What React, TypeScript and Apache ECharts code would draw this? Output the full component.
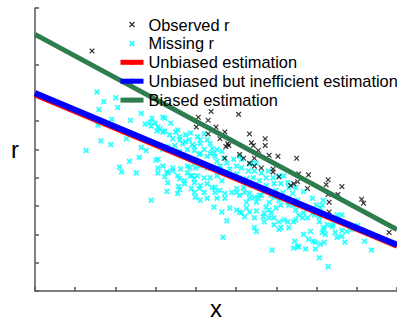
import React, { useEffect, useRef } from "react";
import * as echarts from "echarts";

// Axis scale (arbitrary units, no tick labels in the reference)
const xMin = 0;
const xMax = 368;
const xInterval = 368 / 9;
const yMin = 0;
const yMax = 290;
const yInterval = 29;

const legendNames = [
  "Observed r",
  "Missing r",
  "Unbiased estimation",
  "Unbiased but inefficient estimation",
  "Biased estimation",
];

const observedR: number[][] = [
  [58, 246], [179, 184], [207, 181], [166, 178], [176, 175], [164, 168], [184, 168],
  [193, 163], [176, 161], [218, 161], [188, 156], [196, 151], [194, 148], [197, 149],
  [234, 156], [220, 152], [222, 149], [234, 149], [227, 144], [223, 136], [238, 139],
  [247, 138], [266, 136], [212, 136], [218, 131], [223, 128], [230, 126], [242, 125],
  [242, 122], [268, 120], [278, 119], [248, 117], [260, 108], [263, 110], [267, 112],
  [277, 105], [298, 114], [296, 109], [312, 107], [298, 99], [308, 99], [332, 94],
  [334, 90], [299, 91], [299, 81], [360, 60], [208, 140], [193, 136],
];

const missingR: number[][] = [
  [63, 204], [65, 186], [70, 194], [82, 198], [84, 188], [64, 170], [78, 176], [67, 154],
  [77, 150], [52, 144], [108, 182], [97, 175], [93, 156], [112, 171], [119, 177], [122, 172],
  [130, 178], [138, 172], [125, 168], [132, 164], [137, 160], [145, 165], [147, 158], [153, 160],
  [157, 155], [150, 151], [160, 150], [108, 147], [113, 144], [122, 151], [117, 173], [118, 169],
  [124, 164], [106, 137], [123, 134], [96, 133], [86, 127], [88, 122], [103, 121], [125, 126],
  [125, 121], [134, 122], [140, 123], [132, 117], [148, 125], [145, 118], [147, 115], [155, 121],
  [160, 118], [162, 115], [152, 110], [134, 102], [146, 107], [147, 104], [159, 105], [162, 101],
  [163, 96], [118, 93], [163, 126], [157, 126],
  [132, 177], [127, 166], [130, 163], [143, 163], [158, 162], [140, 156], [147, 155], [153, 153],
  [165, 158], [172, 161], [175, 155], [168, 151], [178, 151], [180, 146], [185, 145], [190, 143],
  [135, 148], [130, 145], [142, 149], [147, 143], [155, 145], [162, 144], [168, 141], [175, 138],
  [183, 138], [192, 136], [178, 141], [125, 135], [130, 128], [135, 121], [140, 126], [155, 128],
  [162, 131], [168, 128], [175, 126], [182, 125], [188, 125], [158, 118], [165, 118], [172, 116],
  [178, 116], [185, 118], [190, 113], [152, 113], [135, 111], [162, 111], [168, 108], [175, 110],
  [183, 106], [172, 101], [145, 100],
  [162, 148], [168, 155], [172, 145], [167, 140], [158, 135], [182, 141], [185, 133], [188, 128],
  [195, 131], [202, 135], [208, 138], [198, 125], [210, 126], [217, 123], [220, 131], [205, 120],
  [210, 135], [218, 130], [225, 131], [205, 128], [223, 123], [230, 121], [237, 123], [208, 116],
  [215, 115], [222, 116], [228, 113], [235, 116], [242, 116], [248, 118], [253, 118], [212, 106],
  [220, 108], [227, 106], [235, 108], [243, 110], [250, 110], [257, 111], [265, 106], [258, 106],
  [273, 102], [205, 101], [218, 100], [230, 98], [242, 101], [252, 101], [262, 100], [215, 91],
  [225, 91], [238, 91], [248, 93], [257, 91], [267, 93],
  [167, 105], [180, 106], [183, 101], [188, 103], [193, 100], [168, 93], [175, 95], [185, 95],
  [193, 95], [200, 101], [205, 105], [208, 98], [213, 101], [218, 95], [223, 96], [228, 98],
  [233, 103], [240, 98], [245, 103], [182, 86], [190, 81], [198, 85], [205, 83], [210, 80],
  [215, 85], [218, 81], [225, 82], [213, 76], [195, 72], [223, 75], [232, 76], [235, 86],
  [240, 80], [245, 85], [250, 88], [233, 71], [238, 75], [243, 75], [248, 71], [253, 73],
  [257, 71], [250, 65], [223, 65], [225, 61], [191, 55], [265, 83], [268, 78], [265, 73],
  [273, 80], [277, 75], [273, 58], [278, 53], [267, 46], [263, 44], [275, 43], [241, 42],
  [280, 61], [283, 51],
  [227, 95], [243, 96], [250, 98], [257, 95], [258, 88], [263, 88], [238, 83], [233, 80],
  [208, 81], [243, 68], [263, 71], [248, 63], [258, 65], [272, 75], [282, 80], [287, 81],
  [292, 88], [293, 93], [282, 95], [286, 88], [290, 85], [284, 78], [289, 76], [289, 71],
  [312, 78], [307, 78], [302, 66], [294, 63], [295, 58], [305, 60], [312, 62], [317, 61],
  [307, 55], [328, 67], [335, 51], [315, 50], [294, 50], [285, 50], [292, 60], [293, 65],
  [297, 68], [312, 56], [322, 63], [264, 51], [268, 45], [285, 43], [290, 48], [289, 34],
  [298, 25], [342, 42], [303, 68],
];

// Estimated regression lines (end points)
const unbiasedLine: number[][] = [[0, 201], [368, 46]];
const inefficientLine: number[][] = [[0, 203], [368, 47.5]];
const biasedLine: number[][] = [[0, 263], [368, 63]];

const xThin =
  "path://M0,1.5L1.5,0L5,3.5L8.5,0L10,1.5L6.5,5L10,8.5L8.5,10L5,6.5L1.5,10L0,8.5L3.5,5Z";
const xBold =
  "path://M0,2.2L2.2,0L5,2.8L7.8,0L10,2.2L7.2,5L10,7.8L7.8,10L5,7.2L2.2,10L0,7.8L2.8,5Z";

const FONT = "'Liberation Sans', Arial, Helvetica, sans-serif";

export default function App() {
  const ref = useRef<HTMLDivElement>(null);
  useEffect(() => {
    if (!ref.current) return;
    const chart = echarts.init(ref.current, undefined, { renderer: "svg" });
    const axisLineStyle = { color: "#555", width: 1.5 };
    chart.setOption({
      animation: false,
      backgroundColor: "#fff",
      textStyle: { fontFamily: FONT },
      grid: { left: 35, right: -6, top: 8, bottom: 27, containLabel: false },
      legend: {
        data: legendNames,
        orient: "vertical",
        left: 118,
        top: 16.5,
        padding: 0,
        itemWidth: 23,
        itemHeight: 6,
        itemGap: 2.9,
        selectedMode: false,
        textStyle: { fontSize: 16.4, color: "#000", fontFamily: FONT },
        lineStyle: { width: 5 },
      },
      xAxis: {
        type: "value",
        min: xMin,
        max: xMax,
        interval: xInterval,
        name: "x",
        nameLocation: "middle",
        nameGap: 5,
        nameTextStyle: { fontSize: 24, color: "#000", fontFamily: FONT },
        axisLine: { lineStyle: axisLineStyle },
        axisTick: { inside: true, length: 4, lineStyle: axisLineStyle },
        axisLabel: { show: false },
        splitLine: { show: false },
      },
      yAxis: {
        type: "value",
        min: yMin,
        max: yMax,
        interval: yInterval,
        name: "r",
        nameLocation: "middle",
        nameRotate: 0,
        nameGap: 16,
        nameTextStyle: { fontSize: 24, color: "#000", fontFamily: FONT },
        axisLine: { lineStyle: axisLineStyle },
        axisTick: { inside: true, length: 4, lineStyle: axisLineStyle },
        axisLabel: { show: false },
        splitLine: { show: false },
      },
      series: [
        {
          name: "Missing r",
          type: "scatter",
          data: missingR,
          symbol: xBold,
          symbolSize: 6,
          itemStyle: { color: "#00ffff" },
        },
        {
          name: "Observed r",
          type: "scatter",
          data: observedR,
          symbol: xThin,
          symbolSize: 5.5,
          itemStyle: { color: "#000" },
        },
        {
          name: "Unbiased estimation",
          type: "line",
          data: unbiasedLine,
          symbol: "none",
          lineStyle: { color: "#ff0000", width: 5 },
          itemStyle: { color: "#ff0000" },
        },
        {
          name: "Unbiased but inefficient estimation",
          type: "line",
          data: inefficientLine,
          symbol: "none",
          lineStyle: { color: "#0000ff", width: 6 },
          itemStyle: { color: "#0000ff" },
        },
        {
          name: "Biased estimation",
          type: "line",
          data: biasedLine,
          symbol: "none",
          lineStyle: { color: "#2e7d4f", width: 5 },
          itemStyle: { color: "#2e7d4f" },
        },
      ],
    });
    return () => chart.dispose();
  }, []);
  return (
    <div
      ref={ref}
      style={{ position: "fixed", left: 0, top: 0, width: 397, height: 325 }}
    />
  );
}
